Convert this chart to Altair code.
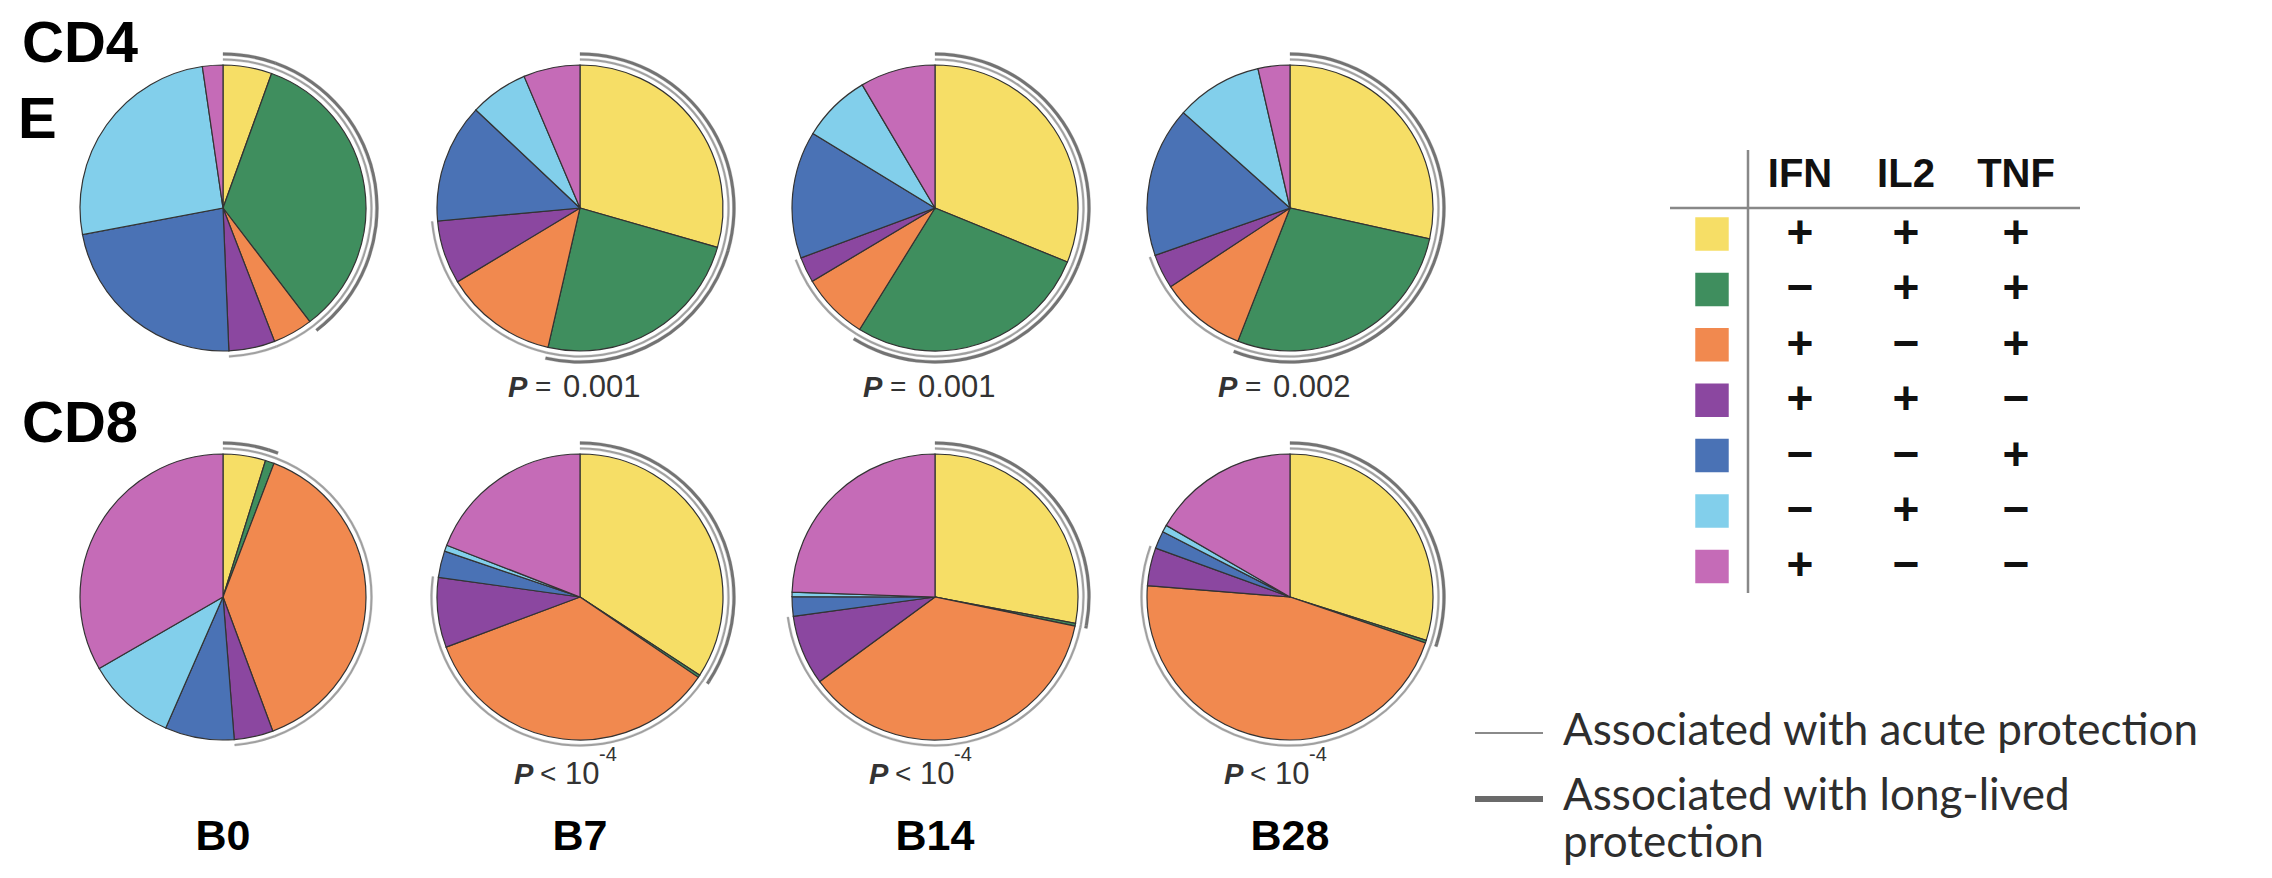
import altair as alt
import pandas as pd

# ---------------- data ----------------
CATEGORIES = ["IFN+IL2+TNF+", "IFN-IL2+TNF+", "IFN+IL2-TNF+", "IFN+IL2+TNF-",
              "IFN-IL2-TNF+", "IFN-IL2+TNF-", "IFN+IL2-TNF-"]
COLORS = ["#F6DE66", "#3F8E5E", "#F1894F", "#8B47A0", "#4A72B5", "#82CFEB", "#C56BB7"]
TIMEPOINTS = ["B0", "B7", "B14", "B28"]
CELLS = ["CD4", "CD8"]

CD4_B0 = [5.5, 34.0, 4.5, 5.2, 22.6, 25.6, 2.3]
CD4_B7 = [29.5, 24.2, 12.8, 7.2, 13.5, 6.6, 6.4]
CD4_B14 = [31.2, 27.7, 7.6, 2.9, 14.4, 7.8, 8.5]
CD4_B28 = [28.5, 27.5, 9.8, 3.9, 17.0, 9.8, 3.6]
CD8_B0 = [4.8, 1.0, 38.5, 4.4, 7.8, 10.1, 33.3]
CD8_B7 = [34.2, 0.3, 34.8, 7.9, 3.0, 0.7, 19.1]
CD8_B14 = [27.9, 0.3, 36.6, 7.9, 2.2, 0.5, 24.4]
CD8_B28 = [30.0, 0.3, 46.2, 4.3, 2.0, 0.8, 16.7]

ACUTE_CATS = 4      # first four subsets: thin arc
LONGLIVED_CATS = 2  # first two subsets: thick arc

PANEL_LABELS = ["CD4", "E", "CD8"]
CD4_P_OP = ["", "=", "=", "="]
CD4_P_VAL = ["", "0.001", "0.001", "0.002"]
CD8_P_OP = ["", "<", "<", "<"]
CD8_P_VAL = ["", "10", "10", "10"]
CD8_P_EXP = ["", "-4", "-4", "-4"]

TABLE_HEADERS = ["IFN", "IL2", "TNF"]
IFN = ["+", "\u2212", "+", "+", "\u2212", "\u2212", "+"]
IL2 = ["+", "+", "\u2212", "+", "\u2212", "+", "\u2212"]
TNF = ["+", "+", "+", "\u2212", "+", "\u2212", "\u2212"]

LINE_LEGEND = ["Associated with acute protection", "Associated with long-lived", "protection"]

# ---------------- layout ----------------
W, H, OFF = 2256, 862, 8
COL_X = {"B0": 223, "B7": 580, "B14": 935, "B28": 1290}
ROW_Y = {"CD4": 208, "CD8": 597}
R = 143

xs = alt.Scale(domain=[OFF, OFF + W], range=[0, W], nice=False, zero=False)
ys = alt.Scale(domain=[OFF, OFF + H], range=[0, H], nice=False, zero=False)

SERIES = {("CD4", "B0"): CD4_B0, ("CD4", "B7"): CD4_B7, ("CD4", "B14"): CD4_B14, ("CD4", "B28"): CD4_B28,
          ("CD8", "B0"): CD8_B0, ("CD8", "B7"): CD8_B7, ("CD8", "B14"): CD8_B14, ("CD8", "B28"): CD8_B28}

rows = []
for (cell, tp), vals in SERIES.items():
    for i, (cat, v) in enumerate(zip(CATEGORIES, vals)):
        rows.append(dict(pie=f"{cell}-{tp}", cat=cat, idx=i, value=v,
                         cx=COL_X[tp], cy=ROW_Y[cell]))
pie_df = pd.DataFrame(rows)

base = (
    alt.Chart(pie_df)
    .transform_joinaggregate(total="sum(value)", groupby=["pie"])
    .transform_window(cum="sum(value)", groupby=["pie"],
                      sort=[alt.SortField("idx", order="ascending")], frame=[None, 0])
    .transform_calculate(t0="2*PI*(datum.cum-datum.value)/datum.total",
                         t1="2*PI*datum.cum/datum.total")
)

pos = dict(x=alt.X("cx:Q", scale=xs, axis=None), y=alt.Y("cy:Q", scale=ys, axis=None),
           theta=alt.Theta("t0:Q", scale=None, stack=False), theta2="t1:Q")

slices = base.mark_arc(outerRadius=R, stroke="#333333", strokeWidth=1.2).encode(
    color=alt.Color("cat:N", scale=alt.Scale(domain=CATEGORIES, range=COLORS), legend=None),
    **pos)

thin_arc = base.transform_filter(alt.datum.idx < ACUTE_CATS).mark_arc(
    innerRadius=R + 4.5, outerRadius=R + 6.5, color="#a0a0a0", stroke="#a0a0a0", strokeWidth=0.3
).encode(**pos)

thick_arc = base.transform_filter(alt.datum.idx < LONGLIVED_CATS).mark_arc(
    innerRadius=R + 9.5, outerRadius=R + 12.5, color="#737373", stroke="#737373", strokeWidth=0.3
).encode(**pos)


def text_layer(df, **mk):
    return alt.Chart(df).mark_text(**mk).encode(
        x=alt.X("x:Q", scale=xs, axis=None),
        y=alt.Y("y:Q", scale=ys, axis=None),
        text="text:N")


# panel labels (y = baseline)
panel_df = pd.DataFrame({"text": PANEL_LABELS, "x": [22, 18, 22], "y": [62, 138, 442]})
panel = text_layer(panel_df, font="Liberation Sans", fontWeight="bold", fontSize=58,
                   align="left", baseline="alphabetic", color="#000")

# p-values (y = vertical middle)
p_rows, op_rows, val_rows, exp_rows = [], [], [], []
for i, tp in enumerate(TIMEPOINTS):
    cx = COL_X[tp]
    if CD4_P_VAL[i]:
        p_rows.append(dict(text="P", x=cx - 72, y=388))
        op_rows.append(dict(text=CD4_P_OP[i], x=cx - 45, y=388))
        val_rows.append(dict(text=CD4_P_VAL[i], x=cx - 17, y=388))
    if CD8_P_VAL[i]:
        p_rows.append(dict(text="P", x=cx - 66, y=775))
        op_rows.append(dict(text=CD8_P_OP[i], x=cx - 40, y=775))
        val_rows.append(dict(text=CD8_P_VAL[i], x=cx - 15, y=775))
        exp_rows.append(dict(text=CD8_P_EXP[i], x=cx + 19, y=755))
p_italic = text_layer(pd.DataFrame(p_rows), font="Liberation Sans", fontStyle="italic",
                      fontWeight="bold", fontSize=29, align="left", baseline="middle", color="#333")
p_op = text_layer(pd.DataFrame(op_rows), font="Liberation Sans", fontSize=28,
                  align="left", baseline="middle", color="#333")
p_val = text_layer(pd.DataFrame(val_rows), font="Liberation Sans", fontSize=31,
                   align="left", baseline="middle", color="#333")
p_exp = text_layer(pd.DataFrame(exp_rows), font="Liberation Sans", fontSize=20,
                   align="left", baseline="middle", color="#333")

# timepoint labels
tp_df = pd.DataFrame({"text": TIMEPOINTS, "x": [COL_X[t] for t in TIMEPOINTS],
                      "y": [837] * 4})
tp_labels = text_layer(tp_df, font="Liberation Sans", fontWeight="bold", fontSize=43,
                       align="center", baseline="middle", color="#000")

# cytokine table
COLS_X = [1800, 1906, 2016]
ROWS_Y = [234 + 55.4 * i for i in range(len(CATEGORIES))]
hdr_df = pd.DataFrame({"text": TABLE_HEADERS, "x": COLS_X, "y": [175] * 3})
headers = text_layer(hdr_df, font="Liberation Sans", fontWeight="bold", fontSize=40,
                     align="center", baseline="middle", color="#111")

sign_rows = []
for j, col in enumerate([IFN, IL2, TNF]):
    for i, s in enumerate(col):
        sign_rows.append(dict(text=s, x=COLS_X[j], y=ROWS_Y[i]))
signs = text_layer(pd.DataFrame(sign_rows), font="Liberation Sans", fontWeight="bold",
                   fontSize=46, align="center", baseline="middle", color="#111")

sq_df = pd.DataFrame({"cat": CATEGORIES, "x": [1712] * 7, "y": ROWS_Y})
squares = alt.Chart(sq_df).mark_square(size=1120, opacity=1).encode(
    x=alt.X("x:Q", scale=xs, axis=None), y=alt.Y("y:Q", scale=ys, axis=None),
    color=alt.Color("cat:N", scale=alt.Scale(domain=CATEGORIES, range=COLORS), legend=None))

hline = alt.Chart(pd.DataFrame({"x": [1670], "x2": [2080], "y": [208]})).mark_rule(
    color="#888", strokeWidth=2.5).encode(
    x=alt.X("x:Q", scale=xs, axis=None), x2="x2:Q", y=alt.Y("y:Q", scale=ys, axis=None))
vline = alt.Chart(pd.DataFrame({"x": [1748], "y": [150], "y2": [593]})).mark_rule(
    color="#888", strokeWidth=2.5).encode(
    x=alt.X("x:Q", scale=xs, axis=None), y=alt.Y("y:Q", scale=ys, axis=None), y2="y2:Q")

# line legend
leg_thin = alt.Chart(pd.DataFrame({"x": [1475], "x2": [1543], "y": [733]})).mark_rule(
    color="#8a8a8a", strokeWidth=2).encode(
    x=alt.X("x:Q", scale=xs, axis=None), x2="x2:Q", y=alt.Y("y:Q", scale=ys, axis=None))
leg_thick = alt.Chart(pd.DataFrame({"x": [1475], "x2": [1543], "y": [799]})).mark_rule(
    color="#6a6a6a", strokeWidth=6).encode(
    x=alt.X("x:Q", scale=xs, axis=None), x2="x2:Q", y=alt.Y("y:Q", scale=ys, axis=None))
leg_txt = text_layer(pd.DataFrame({"text": LINE_LEGEND, "x": [1563] * 3, "y": [732, 797, 844]}),
                     font="Lato", fontSize=44, align="left", baseline="middle", color="#2e2e2e")

chart = alt.layer(
    thin_arc, thick_arc, slices, panel, p_italic, p_op, p_val, p_exp, tp_labels,
    hline, vline, squares, headers, signs, leg_thin, leg_thick, leg_txt
).properties(
    width=W, height=H, padding=0, background="white",
    autosize=alt.AutoSizeParams(type="none")
).configure_view(stroke=None)

chart.save("out.html", embed_options={"renderer": "svg", "actions": False})
